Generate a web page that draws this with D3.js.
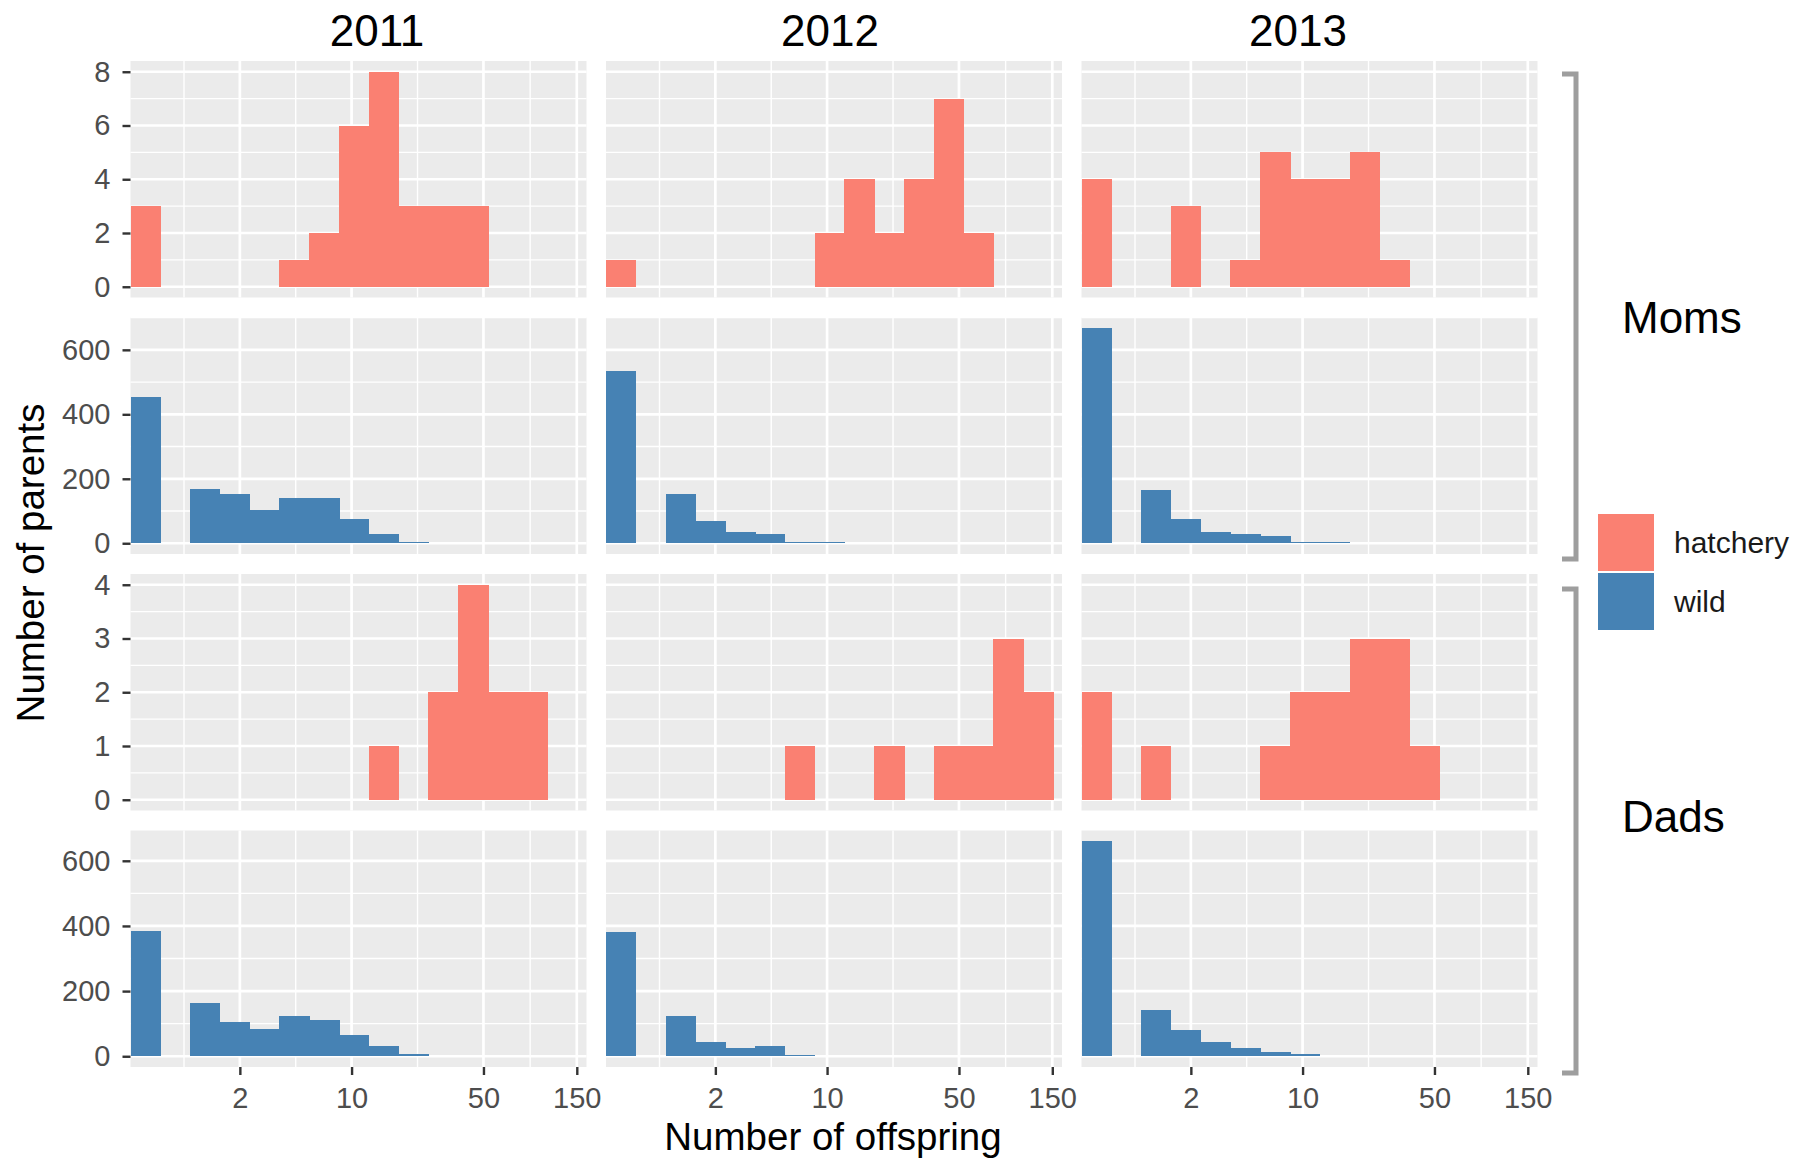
<!DOCTYPE html>
<html>
<head>
<meta charset="utf-8">
<title>Offspring per parent</title>
<script src="https://d3js.org/d3.v7.min.js"></script>
<style>
  body { margin: 0; background: #fff; }
  text { font-family: "Liberation Sans", Arial, sans-serif; }
</style>
</head>
<body>
<div id="my_dataviz"></div>
<script>

// one column per year
var years = ["2011", "2012", "2013"];

// counts per bin, bin k is centred on log10(1 + offspring) = k * log10(2) / 2
var momsHatchery = [
  [3, 0, 0, 0, 0, 1, 2, 6, 8, 3, 3, 3],
  [1, 0, 0, 0, 0, 0, 0, 2, 4, 2, 4, 7, 2],
  [4, 0, 0, 3, 0, 1, 5, 4, 4, 5, 1]
];
var momsWild = [
  [455, 0, 169, 154, 102, 139, 139, 76, 28, 3],
  [535, 0, 154, 68, 35, 29, 3, 3],
  [667, 0, 164, 76, 35, 29, 24, 3, 3]
];
var dadsHatchery = [
  [0, 0, 0, 0, 0, 0, 0, 0, 1, 0, 2, 4, 2, 2],
  [0, 0, 0, 0, 0, 0, 1, 0, 0, 1, 0, 1, 1, 3, 2],
  [2, 0, 1, 0, 0, 0, 1, 2, 2, 3, 3, 1]
];
var dadsWild = [
  [386, 0, 165, 106, 84, 125, 110, 66, 32, 6],
  [380, 0, 124, 44, 25, 32, 4, 1],
  [660, 0, 143, 80, 44, 25, 13, 6]
];

// tick labels
var xTicks = [2, 10, 50, 150];
var yTicks = [[0, 2, 4, 6, 8], [0, 200, 400, 600], [0, 1, 2, 3, 4], [0, 200, 400, 600]];

var groups = ["hatchery", "wild"];
var parents = ["Moms", "Dads"];
var colors = { hatchery: "salmon", wild: "steelblue" };

var rows = [
  { counts: momsHatchery, group: "hatchery", ticks: yTicks[0] },
  { counts: momsWild, group: "wild", ticks: yTicks[1] },
  { counts: dadsHatchery, group: "hatchery", ticks: yTicks[2] },
  { counts: dadsWild, group: "wild", ticks: yTicks[3] }
];

// layout
var width = 1812, height = 1159;
var left = 130.5, top0 = 61;
var panelW = 456, panelH = 236.5, gapX = 19.5, gapY = 20;

var svg = d3.select("#my_dataviz")
  .append("svg")
    .attr("width", width)
    .attr("height", height);

// x is log10(1 + offspring), shared by all panels
var binW = Math.log10(2) / 2;
var x = d3.scaleLinear()
  .domain([-binW / 2, 2.228])
  .range([0, panelW]);

var xMajor = xTicks.map(function (v) { return Math.log10(1 + v); });
var xMinor = [xMajor[0] - (xMajor[1] - xMajor[0]) / 2];
for (var i = 0; i < xMajor.length - 1; i++) xMinor.push((xMajor[i] + xMajor[i + 1]) / 2);

rows.forEach(function (row, r) {
  var maxCount = d3.max(row.counts, function (c) { return d3.max(c); });
  var y = d3.scaleLinear()
    .domain([-0.05 * maxCount, 1.05 * maxCount])
    .range([panelH, 0]);

  var step = row.ticks[1] - row.ticks[0];
  var yMinor = [row.ticks[0] - step / 2].concat(row.ticks.map(function (t) { return t + step / 2; }))
    .filter(function (t) { return t >= y.domain()[0] && t <= y.domain()[1]; });

  row.counts.forEach(function (counts, c) {
    var g = svg.append("g")
      .attr("transform", "translate(" + (left + c * (panelW + gapX)) + "," + (top0 + r * (panelH + gapY)) + ")");

    g.append("rect")
      .attr("width", panelW)
      .attr("height", panelH)
      .attr("fill", "#EBEBEB");

    // minor grid
    g.selectAll(".vminor").data(xMinor).enter().append("line")
      .attr("x1", function (d) { return x(d); }).attr("x2", function (d) { return x(d); })
      .attr("y1", 0).attr("y2", panelH)
      .attr("stroke", "#fff").attr("stroke-width", 1.4);
    g.selectAll(".hminor").data(yMinor).enter().append("line")
      .attr("x1", 0).attr("x2", panelW)
      .attr("y1", function (d) { return y(d); }).attr("y2", function (d) { return y(d); })
      .attr("stroke", "#fff").attr("stroke-width", 1.4);

    // major grid
    g.selectAll(".vmajor").data(xMajor).enter().append("line")
      .attr("x1", function (d) { return x(d); }).attr("x2", function (d) { return x(d); })
      .attr("y1", 0).attr("y2", panelH)
      .attr("stroke", "#fff").attr("stroke-width", 2.7);
    g.selectAll(".hmajor").data(row.ticks).enter().append("line")
      .attr("x1", 0).attr("x2", panelW)
      .attr("y1", function (d) { return y(d); }).attr("y2", function (d) { return y(d); })
      .attr("stroke", "#fff").attr("stroke-width", 2.7);

    // histogram bars
    var bins = counts.map(function (n, k) { return { k: k, n: n }; })
      .filter(function (d) { return d.n > 0; });
    g.selectAll(".bar").data(bins).enter().append("rect")
      .attr("x", function (d) { return x((d.k - 0.5) * binW); })
      .attr("width", function (d) { return x((d.k + 0.5) * binW) - x((d.k - 0.5) * binW) + 0.6; })
      .attr("y", function (d) { return y(d.n); })
      .attr("height", function (d) { return y(0) - y(d.n); })
      .attr("fill", colors[row.group])
      .attr("shape-rendering", "crispEdges");

    if (c === 0) {
      var ay = g.append("g")
        .call(d3.axisLeft(y).tickValues(row.ticks).tickSize(8).tickPadding(12)
          .tickFormat(d3.format("d")));
      styleAxis(ay);
    }
    if (r === rows.length - 1) {
      var ax = g.append("g")
        .attr("transform", "translate(0," + panelH + ")")
        .call(d3.axisBottom(x).tickValues(xMajor).tickSize(8).tickPadding(12)
          .tickFormat(function (d, i) { return xTicks[i]; }));
      styleAxis(ax);
    }
  });
});

function styleAxis(a) {
  a.select(".domain").remove();
  a.selectAll(".tick line").attr("stroke", "#333").attr("stroke-width", 2.4);
  a.selectAll(".tick text")
    .attr("fill", "#4D4D4D")
    .style("font-size", "29px")
    .style("font-family", "'Liberation Sans', Arial, sans-serif");
}

// year titles
var yearX = [377, 830, 1298];
svg.selectAll(".year").data(years).enter().append("text")
  .attr("x", function (d, i) { return yearX[i]; })
  .attr("y", 46)
  .attr("text-anchor", "middle")
  .style("font-size", "44px")
  .attr("fill", "#000")
  .text(function (d) { return d; });

// axis titles
svg.append("text")
  .attr("x", 833).attr("y", 1150)
  .attr("text-anchor", "middle")
  .style("font-size", "38.5px")
  .attr("fill", "#000")
  .text("Number of offspring");
svg.append("text")
  .attr("transform", "translate(44,563) rotate(-90)")
  .attr("text-anchor", "middle")
  .style("font-size", "38.5px")
  .attr("fill", "#000")
  .text("Number of parents");

// brackets and Moms / Dads labels
var brackets = [[74, 559], [589, 1073]];
svg.selectAll(".bracket").data(brackets).enter().append("path")
  .attr("d", function (d) { return "M1562," + d[0] + "H1576V" + d[1] + "H1562"; })
  .attr("fill", "none")
  .attr("stroke", "#9E9E9E")
  .attr("stroke-width", 5);
var parentY = [333, 832];
svg.selectAll(".parent").data(parents).enter().append("text")
  .attr("x", 1622)
  .attr("y", function (d, i) { return parentY[i]; })
  .style("font-size", "44px")
  .attr("fill", "#000")
  .text(function (d) { return d; });

// legend
var legend = svg.append("g").attr("transform", "translate(1598,514)");
legend.selectAll("rect").data(groups).enter().append("rect")
  .attr("x", 0)
  .attr("y", function (d, i) { return i * 59; })
  .attr("width", 56)
  .attr("height", 57)
  .attr("fill", function (d) { return colors[d]; });
legend.selectAll("text").data(groups).enter().append("text")
  .attr("x", 76)
  .attr("y", function (d, i) { return i * 59 + 28.5; })
  .attr("dy", "0.35em")
  .style("font-size", "30px")
  .attr("fill", "#1A1A1A")
  .text(function (d) { return d; });

</script>
</body>
</html>
